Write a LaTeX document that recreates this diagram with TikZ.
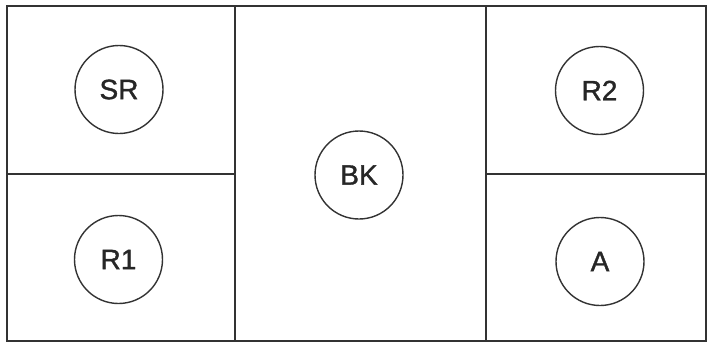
\documentclass[tikz,border=0pt]{standalone}
\usepackage{fontspec}
\setmainfont{Liberation Sans}
\newfontfamily\labfont[FakeBold=1.3]{Liberation Sans}
\begin{document}
\begin{tikzpicture}[x=1pt,y=-1pt,
  wall/.style={draw=black!80,line width=1.6pt},
  unit/.style={circle,draw=black!80,line width=1.4pt,minimum size=88pt,inner sep=0pt,font=\labfont\fontsize{28}{28}\selectfont,text=black!85}]
\useasboundingbox (0,0) rectangle (710,343);
\coordinate (tl) at (7,6);
\coordinate (br) at (706,341);
\draw[wall] (tl) rectangle (br);
\coordinate (v1t) at (235,6);
\coordinate (v1b) at (235,341);
\coordinate (v2t) at (486,6);
\coordinate (v2b) at (486,341);
\draw[wall] (v1t) -- (v1b);
\draw[wall] (v2t) -- (v2b);
\coordinate (h1l) at (7,174);
\coordinate (h1r) at (235,174);
\coordinate (h2l) at (486,174);
\coordinate (h2r) at (706,174);
\draw[wall] (h1l) -- (h1r);
\draw[wall] (h2l) -- (h2r);
\node[unit] (SR) at (119,89.5) {SR};
\node[unit] (R1) at (118.5,259.5) {R1};
\node[unit] (BK) at (359,175) {BK};
\node[unit] (R2) at (599.5,90.5) {R2};
\node[unit] (A) at (600,261.5) {A};
\end{tikzpicture}
\end{document}
